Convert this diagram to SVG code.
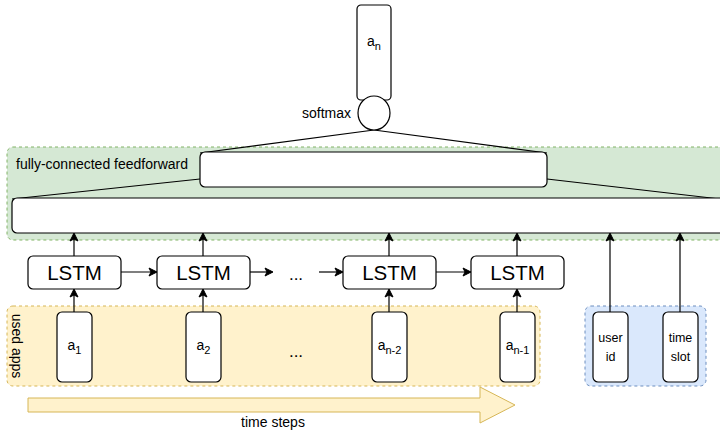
<svg xmlns="http://www.w3.org/2000/svg" width="720" height="434" viewBox="0 0 720 434">
<defs>
<style>
text{font-family:"Liberation Sans",Arial,sans-serif;fill:#000}
.box{fill:#fff;stroke:#000;stroke-width:1.2}
.ln{fill:none;stroke:#000;stroke-width:1.2}
.t12{font-size:14px}
.lstm{font-size:20.5px}
.a{font-size:14px}
.sub{font-size:11px}
.ctx{font-size:12.5px}
</style>
<marker id="ah" markerWidth="10" markerHeight="10" refX="8" refY="5" orient="auto" markerUnits="userSpaceOnUse">
<path d="M1,1 L9,5 L1,9 L3,5 Z" fill="#000" stroke="#000" stroke-width="1"/>
</marker>
</defs>

<g id="containers">
<rect id="fc-group" x="7" y="147" width="720" height="93" rx="6" fill="#d5e8d4" stroke="#82b366" stroke-dasharray="3,3"/>
<rect id="apps-group" x="7" y="306" width="533" height="80" rx="6" fill="#fff2cc" stroke="#d6b656" stroke-dasharray="3,3"/>
<rect id="ctx-group" x="585" y="306" width="121" height="80" rx="6" fill="#dae8fc" stroke="#6c8ebf" stroke-dasharray="3,3"/>
<text class="t12" x="16" y="169">fully-connected feedforward</text>
<text class="t12" transform="translate(12,346) rotate(90)" text-anchor="middle">used apps</text>
</g>

<g id="time-arrow">
<path d="M28,398 L480,398 L480,387 L515,405 L480,423 L480,412 L28,412 Z" fill="#fff2cc" stroke="#d6b656" stroke-width="1"/>
<text class="t12" x="273" y="427" text-anchor="middle">time steps</text>
</g>

<g id="connectors">
<line class="ln" x1="374" y1="97" x2="374" y2="101" marker-end="url(#ah)"/>
<line class="ln" x1="374" y1="130" x2="200" y2="153"/>
<line class="ln" x1="374" y1="130" x2="547" y2="153"/>
<line class="ln" x1="200" y1="179" x2="12" y2="199"/>
<line class="ln" x1="547" y1="179" x2="720" y2="199"/>
<line class="ln" x1="74" y1="256" x2="74" y2="234" marker-end="url(#ah)"/>
<line class="ln" x1="203" y1="256" x2="203" y2="234" marker-end="url(#ah)"/>
<line class="ln" x1="389" y1="256" x2="389" y2="234" marker-end="url(#ah)"/>
<line class="ln" x1="517" y1="256" x2="517" y2="234" marker-end="url(#ah)"/>
<line class="ln" x1="610" y1="312" x2="610" y2="234" marker-end="url(#ah)"/>
<line class="ln" x1="680" y1="312" x2="680" y2="234" marker-end="url(#ah)"/>
<line class="ln" x1="121" y1="272" x2="156" y2="272" marker-end="url(#ah)"/>
<line class="ln" x1="250" y1="272" x2="272" y2="272" marker-end="url(#ah)"/>
<line class="ln" x1="319" y1="272" x2="342" y2="272" marker-end="url(#ah)"/>
<line class="ln" x1="436" y1="272" x2="470" y2="272" marker-end="url(#ah)"/>
<line class="ln" x1="74" y1="312" x2="74" y2="290" marker-end="url(#ah)"/>
<line class="ln" x1="203" y1="312" x2="203" y2="290" marker-end="url(#ah)"/>
<line class="ln" x1="389" y1="312" x2="389" y2="290" marker-end="url(#ah)"/>
<line class="ln" x1="517" y1="312" x2="517" y2="290" marker-end="url(#ah)"/>
</g>

<g id="an-out">
<rect class="box" x="357" y="5" width="34" height="95" rx="4"/>
<text class="a" x="374" y="46" text-anchor="middle">a<tspan class="sub" dy="4">n</tspan></text>
</g>

<g id="softmax">
<ellipse class="box" cx="374" cy="113" rx="16" ry="17"/>
<text class="t12" x="351" y="118" text-anchor="end">softmax</text>
</g>

<g id="fc-upper">
<rect class="box" x="200" y="152" width="347" height="35" rx="5"/>
</g>
<g id="fc-lower">
<rect class="box" x="12" y="198" width="720" height="35" rx="5"/>
</g>

<g id="lstm1"><rect class="box" x="28" y="256" width="93" height="33" rx="5"/><text class="lstm" x="74.5" y="280" text-anchor="middle">LSTM</text></g>
<g id="lstm2"><rect class="box" x="157" y="256" width="93" height="33" rx="5"/><text class="lstm" x="203.5" y="280" text-anchor="middle">LSTM</text></g>
<g id="lstm-dots"><text x="296" y="280" text-anchor="middle" style="font-size:17px">...</text></g>
<g id="lstm3"><rect class="box" x="343" y="256" width="93" height="33" rx="5"/><text class="lstm" x="389.5" y="280" text-anchor="middle">LSTM</text></g>
<g id="lstm4"><rect class="box" x="471" y="256" width="93" height="33" rx="5"/><text class="lstm" x="517.5" y="280" text-anchor="middle">LSTM</text></g>

<g id="a1"><rect class="box" x="57" y="312" width="35" height="70" rx="5"/><text class="a" x="74.5" y="350" text-anchor="middle">a<tspan class="sub" dy="4">1</tspan></text></g>
<g id="a2"><rect class="box" x="186" y="312" width="35" height="70" rx="5"/><text class="a" x="203.5" y="350" text-anchor="middle">a<tspan class="sub" dy="4">2</tspan></text></g>
<g id="a-dots"><text x="296" y="357" text-anchor="middle" style="font-size:17px">...</text></g>
<g id="an2"><rect class="box" x="372" y="312" width="35" height="70" rx="5"/><text class="a" x="389.5" y="350" text-anchor="middle">a<tspan class="sub" dy="4">n-2</tspan></text></g>
<g id="an1"><rect class="box" x="500" y="312" width="35" height="70" rx="5"/><text class="a" x="517.5" y="350" text-anchor="middle">a<tspan class="sub" dy="4">n-1</tspan></text></g>

<g id="userid"><rect class="box" x="593" y="312" width="35" height="70" rx="5"/><text class="ctx" x="610.5" y="342" text-anchor="middle">user</text><text class="ctx" x="610.5" y="361" text-anchor="middle">id</text></g>
<g id="timeslot"><rect class="box" x="663" y="312" width="35" height="70" rx="5"/><text class="ctx" x="680.5" y="342" text-anchor="middle">time</text><text class="ctx" x="680.5" y="361" text-anchor="middle">slot</text></g>
</svg>
